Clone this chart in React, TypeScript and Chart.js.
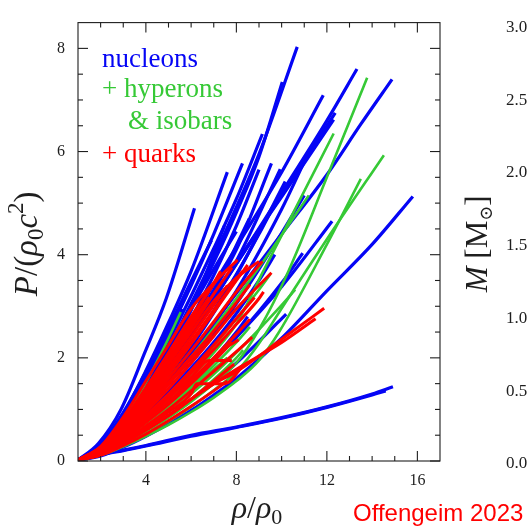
import React, { useEffect, useRef } from 'react';
import { Chart, registerables } from 'chart.js';
Chart.register(...registerables);

// ---------- data: nucleon EoS curves (rho/rho0, P/(rho0 c^2)) ----------
const nB01 = [[1,0.02],[1.9,0.34],[2.9,1.0],[3.95,2.1],[4.9,3.15],[6.15,4.9]];
const nB02 = [[1,0.02],[2,0.3],[3,0.92],[4,1.75],[5,2.68],[6,3.68],[7.6,5.6]];
const nB03 = [[1,0.02],[2,0.28],[3,0.86],[4,1.62],[5,2.48],[6,3.4],[7,4.4],[8.27,5.77]];
const nB04 = [[1,0.02],[2,0.27],[3,0.8],[4,1.5],[5,2.32],[6,3.2],[7,4.12],[8,5.08],[9.15,6.34]];
const nB05 = [[1,0.02],[2,0.26],[3,0.76],[4,1.42],[5,2.2],[6,3.05],[7,3.95],[8,4.92],[9,5.95],[10.69,8.03]];
const nB06 = [[1,0.02],[2,0.25],[3,0.74],[4,1.38],[5,2.12],[6,2.95],[7,3.85],[8,4.82],[9,5.9],[10.03,7.35]];
const nB07 = [[1,0.02],[2,0.22],[3,0.64],[4,1.18],[5,1.8],[6,2.45],[8,3.82],[10,5.2],[12,6.6],[13.33,7.6]];
const nB08 = [[1,0.02],[2,0.2],[3,0.56],[4,1.02],[5,1.54],[6,2.1],[8,3.25],[10,4.4],[12,5.55],[13.5,6.53],[14.88,7.4]];
const nB09 = [[1,0.02],[2,0.24],[3,0.7],[4,1.3],[5,1.98],[6,2.7],[8,4.15],[10,5.6],[11.84,7.09]];
const nB10 = [[1,0.02],[2,0.22],[3,0.65],[4,1.2],[5,1.82],[6,2.48],[8,3.82],[10,5.15],[12.37,6.75]];
const nB11 = [[1,0.02],[2,0.23],[3,0.67],[4,1.24],[5,1.86],[6,2.52],[8,3.85],[10,5.12],[12.3,6.62]];
const nB12 = [[1,0.02],[2,0.1],[3,0.27],[4,0.48],[5,0.72],[6,0.98],[7,1.28],[8,1.6],[10,2.38],[12,3.3],[14,4.2],[15.8,5.13]];
const nB13 = [[1,0.02],[2,0.15],[3,0.42],[4,0.75],[5,1.1],[6,1.5],[8,2.4],[10,3.38],[12.23,4.65]];
const nB14 = [[1,0.02],[2,0.16],[3,0.44],[4,0.78],[5,1.14],[6,1.54],[8,2.4],[10,3.45],[10.93,4.03]];
const nB15 = [[1,0.02],[2,0.2],[3,0.56],[4,1.02],[5,1.52],[6,2.06],[8,3.3],[10,4.88],[11,5.8]];
const nB16 = [[1,0.02],[2,0.22],[3,0.63],[4,1.16],[5,1.76],[6,2.42],[8,3.88],[9.94,5.66]];
const nB17 = [[1,0.02],[2,0.2],[3,0.58],[4,1.06],[5,1.6],[6,2.2],[8,3.6],[10.16,5.42]];
const nB18 = [[1,0.02],[2,0.24],[3,0.68],[4,1.26],[5,1.9],[6,2.6],[8,4.1],[9.55,5.77]];
const nB19 = [[1,0.02],[1.5,0.07],[2,0.13],[3,0.21],[4,0.3],[6,0.5],[8,0.66],[10,0.84],[12,1.05],[14,1.3],[14.92,1.44]];
const nB20 = [[1,0.02],[1.5,0.06],[2,0.12],[3,0.2],[4,0.29],[6,0.48],[8,0.65],[10,0.83],[12,1.04],[14,1.28],[14.6,1.36]];
const nB21 = [[1,0.02],[2,0.26],[3,0.76],[4,1.4],[5,2.12],[6,2.92],[7.47,4.56]];
const nB22 = [[1,0.02],[2,0.24],[3,0.68],[4,1.25],[5,1.88],[6,2.56],[7,3.3],[8.57,4.7]];
const nB23 = [[1,0.02],[2,0.25],[3,0.72],[4,1.33],[5,2.02],[6,2.76],[7,3.6],[8,4.56],[9,5.65]];
const nB24 = [[1,0.02],[2,0.28],[3,0.8],[4,1.46],[5,2.18],[6,2.95],[7,3.72],[8,4.45]];
const nB25 = [[1,0.02],[2,0.22],[3,0.6],[4,1.1],[5,1.66],[6,2.26],[7,2.92],[8,3.62],[9,4.4],[9.6,4.9]];
const nB26 = [[1,0.02],[2,0.19],[3,0.52],[4,0.94],[5,1.4],[6,1.9],[7,2.45],[8,3.05],[9,3.72],[10,4.42],[11,5.15]];
const nB27 = [[1,0.02],[2,0.18],[3,0.5],[4,0.9],[5,1.33],[6,1.8],[7,2.3],[8,2.86],[9,3.5],[9.7,4.0]];
const nB28 = [[1,0.02],[2,0.32],[3,0.94],[4,1.72],[5,2.58],[6,3.48],[6.9,4.28]];
const nB29 = [[1,0.02],[2,0.15],[3,0.42],[4,0.75],[5,1.12],[6,1.52],[7,1.98],[8,2.5],[8.5,2.8]];
const nB30 = [[1,0.02],[2,0.12],[3,0.33],[4,0.58],[5,0.86],[6,1.18],[7,1.52],[8,1.9],[9,2.32],[10.2,2.85]];
const nB31 = [[1,0.02],[2,0.3],[3,0.88],[4,1.6],[5,2.4],[5.6,2.95]];

// ---------- data: + hyperons & isobars ----------
const hG01 = [[1,0.02],[2,0.12],[3,0.32],[4,0.56],[5,0.84],[6,1.15],[7,1.5],[8,1.9],[9,2.55],[10.3,3.68],[12,5.5],[13.78,7.43]];
const hG02 = [[1,0.02],[2,0.16],[3,0.44],[4,0.8],[5,1.2],[6,1.62],[7,2.1],[8,2.66],[9.19,3.68],[10.5,4.8],[12.3,6.35]];
const hG03 = [[1,0.02],[2,0.12],[3,0.3],[4,0.52],[5,0.77],[6,1.05],[7,1.37],[8,1.73],[9,2.28],[9.9,2.89],[12,4.3],[14.52,5.93]];
const hG04 = [[1,0.02],[2,0.11],[3,0.28],[4,0.48],[5,0.7],[6,0.95],[7,1.23],[8,1.55],[9,1.95],[9.9,2.51],[12,4.2],[13.5,5.47]];
const hG05 = [[1,0.02],[2,0.25],[2.45,0.45],[3,0.8],[4,1.52],[5,2.38],[5.54,2.89]];
const hG06 = [[1,0.02],[2,0.16],[3,0.42],[4,0.74],[5,1.08],[6,1.45],[7,1.85],[8,2.3],[8.6,2.6]];
const hG07 = [[1,0.02],[2,0.13],[3,0.34],[4,0.6],[5,0.88],[6,1.18],[7,1.5],[7.6,1.72]];
const hG08 = [[1,0.02],[2,0.18],[3,0.48],[4,0.86],[5,1.27],[6,1.72],[7,2.22],[8,2.76],[9,3.32],[9.5,3.62]];
const hG09 = [[1,0.02],[2,0.15],[3,0.4],[4,0.7],[5,1.03],[6,1.4],[6.5,1.6],[7.6,2.0]];
const hG10 = [[1,0.02],[2,0.2],[3,0.55],[4,1.0],[5,1.5],[6,2.02],[7,2.58],[8,3.15],[9,3.75],[10,4.38],[11.2,5.15]];
const hG11 = [[1,0.02],[2,0.14],[3,0.37],[4,0.65],[5,0.96],[6,1.3],[7,1.68],[8,2.1],[9,2.55],[10,3.02],[10.6,3.32]];
const hG12 = [[1,0.02],[2,0.22],[3,0.62],[4,1.12],[5,1.68],[6,2.28],[7,2.9],[7.4,3.15]];
const hG13 = [[1,0.02],[2,0.12],[3,0.33],[4,0.58],[5,0.87],[6,1.2],[7,1.58],[8,2.0],[8.3,2.15]];
const hG14 = [[1,0.02],[2,0.17],[3,0.46],[4,0.82],[5,1.22],[6,1.66],[6.8,2.02]];

// ---------- data: + quarks ----------
const qR01 = [[1,0.02],[2,0.28],[3,0.85],[4,1.55],[5,2.25],[6,2.95],[7,3.45],[8.05,3.9]];
const qR02 = [[1,0.02],[2,0.24],[3,0.7],[4,1.28],[5,1.88],[6,2.5],[7,3.1],[8,3.55],[9.0,3.87]];
const qR03 = [[1,0.02],[2,0.21],[3,0.6],[4,1.08],[5,1.6],[6,2.14],[7,2.7],[8,3.28],[9.15,3.87]];
const qR04 = [[1,0.02],[2,0.23],[3,0.66],[4,1.18],[5,1.74],[6,2.32],[7,2.92],[8.27,3.68]];
const qR05 = [[1,0.02],[2,0.19],[3,0.52],[4,0.94],[5,1.4],[6,1.9],[7,2.42],[8,2.95],[9.55,3.65]];
const qR06 = [[1,0.02],[2,0.15],[3,0.42],[4,0.75],[5,1.1],[6,1.5],[7,1.93],[7.8,2.3]];
const qR07 = [[1,0.02],[2,0.17],[3,0.46],[4,0.82],[5,1.22],[6,1.62],[6.8,1.95],[7.8,1.95]];
const qR08 = [[1,0.02],[2,0.14],[3,0.37],[4,0.64],[5,0.95],[6,1.3],[6.25,1.5],[7.5,1.5],[8.3,1.85]];
const qR09 = [[1,0.02],[2,0.27],[3,0.78],[4,1.42],[5,2.1],[6,2.8],[7.2,3.55]];
const qR10 = [[1,0.02],[2,0.26],[3,0.74],[4,1.34],[5,1.98],[6,2.66],[6.8,3.18]];
const qR11 = [[1,0.02],[2,0.24],[3,0.68],[4,1.22],[5,1.8],[6,2.4],[7,3.02],[7.6,3.4]];
const qR12 = [[1,0.02],[2,0.2],[3,0.56],[4,1.0],[5,1.48],[6,1.98],[7,2.52],[8,3.07],[8.6,3.42]];
const qR13 = [[1,0.02],[2,0.18],[3,0.5],[4,0.88],[5,1.3],[6,1.76],[7,2.25],[8,2.76],[8.8,3.17]];
const qR14 = [[1,0.02],[2,0.16],[3,0.44],[4,0.78],[5,1.15],[6,1.56],[7,2.0],[8,2.46],[8.6,2.75]];
const qR15 = [[1,0.02],[2,0.14],[3,0.38],[4,0.68],[5,1.0],[6,1.36],[7,1.74],[8,2.12],[8.7,2.4]];
const qR16 = [[1,0.02],[2,0.12],[3,0.34],[4,0.6],[5,0.88],[6,1.2],[7,1.55],[7.9,1.88]];
const qR17 = [[1,0.02],[2,0.27],[3,0.76],[4,1.38],[5,2.04],[6,2.74],[7,3.45],[7.3,3.68]];
const qR18 = [[1,0.02],[2,0.22],[3,0.63],[4,1.13],[5,1.68],[6,2.27],[7,2.88],[8,3.5],[8.5,3.8]];
const qR19 = [[1,0.02],[2,0.21],[3,0.58],[4,1.03],[5,1.52],[6,2.02],[6.9,2.45]];
const qR20 = [[1,0.02],[2,0.17],[3,0.47],[4,0.84],[5,1.26],[6,1.7],[7,2.16],[8,2.65],[9,3.15],[9.2,3.28]];
const qR21 = [[1,0.02],[2,0.13],[3,0.35],[4,0.6],[5,0.88],[6,1.2],[7,1.5],[8,1.73],[10,2.36],[11.88,2.96]];
const qR22 = [[1,0.02],[2,0.13],[3,0.35],[4,0.6],[5,0.88],[6,1.2],[7,1.5],[8,1.78],[10,2.3],[11.5,2.76]];
const qR23 = [[1,0.02],[2,0.16],[3,0.43],[4,0.76],[5,1.14],[6,1.55],[7,1.98],[7.4,2.15],[8.1,2.35]];
const qR24 = [[1,0.02],[2,0.11],[3,0.3],[4,0.52],[5,0.78],[6,1.06],[7,1.36],[7.6,1.55]];
const qR25 = [[1,0.02],[2,0.25],[3,0.72],[4,1.3],[5,1.93],[6,2.58],[7,3.24],[7.8,3.75]];

const nucleonCurves = [nB01,nB02,nB03,nB04,nB05,nB06,nB07,nB08,nB09,nB10,nB11,nB12,nB13,nB14,nB15,nB16,nB17,nB18,nB19,nB20,nB21,nB22,nB23,nB24,nB25,nB26,nB27,nB28,nB29,nB30,nB31];
const hyperonCurves = [hG01,hG02,hG03,hG04,hG05,hG06,hG07,hG08,hG09,hG10,hG11,hG12,hG13,hG14];
const quarkCurves = [qR01,qR02,qR03,qR04,qR05,qR06,qR07,qR08,qR09,qR10,qR11,qR12,qR13,qR14,qR15,qR16,qR17,qR18,qR19,qR20,qR21,qR22,qR23,qR24,qR25];

// ---------- axes / labels ----------
const xMajorTicks = [4, 8, 12, 16];
const xMinorTicks = [2, 3, 5, 6, 7, 9, 10, 11, 13, 14, 15];
const yMajorTicks = [0, 2, 4, 6, 8];
const yMinorTicks = [0.5, 1, 1.5, 2.5, 3, 3.5, 4.5, 5, 5.5, 6.5, 7, 7.5];
const massTickValues = [0, 0.5, 1, 1.5, 2, 2.5, 3];
const massTickLabels = ['0.0', '0.5', '1.0', '1.5', '2.0', '2.5', '3.0'];
const legendLabels = ['nucleons', '+ hyperons', '& isobars', '+ quarks'];
const creditLabel = 'Offengeim 2023';

const BLUE = '#0505f5';
const GREEN = '#36c936';
const RED = '#ff0000';
const INK = '#1e1e1e';
const SERIF = "'Liberation Serif', 'DejaVu Serif', 'DejaVu Sans', serif";

type Part = { t: string; italic?: boolean; size: number; dy?: number };

function drawRich(ctx: CanvasRenderingContext2D, parts: Part[], x: number, y: number, angle: number) {
  ctx.save();
  ctx.translate(x, y);
  ctx.rotate(angle);
  ctx.textBaseline = 'alphabetic';
  ctx.textAlign = 'left';
  ctx.fillStyle = INK;
  const widths = parts.map((p) => {
    ctx.font = `${p.italic ? 'italic ' : ''}${p.size}px ${SERIF}`;
    return ctx.measureText(p.t).width;
  });
  const total = widths.reduce((a, b) => a + b, 0);
  let cx = -total / 2;
  parts.forEach((p, i) => {
    ctx.font = `${p.italic ? 'italic ' : ''}${p.size}px ${SERIF}`;
    ctx.fillText(p.t, cx, p.dy || 0);
    cx += widths[i];
  });
  ctx.restore();
}

const yTitle: Part[] = [
  { t: 'P', italic: true, size: 33 },
  { t: '/', size: 33 },
  { t: '(', size: 33 },
  { t: 'ρ', italic: true, size: 33 },
  { t: '0', size: 23, dy: 6 },
  { t: 'c', italic: true, size: 33 },
  { t: '2', size: 23, dy: -14 },
  { t: ')', size: 33 },
];
const xTitle: Part[] = [
  { t: 'ρ', italic: true, size: 32 },
  { t: '/', size: 32 },
  { t: 'ρ', italic: true, size: 32 },
  { t: '0', size: 22, dy: 6 },
];
const mTitle: Part[] = [
  { t: 'M', italic: true, size: 31 },
  { t: ' [', size: 31 },
  { t: 'M', size: 31 },
  { t: '⊙', size: 18, dy: 5 },
  { t: ']', size: 31 },
];

const decorPlugin = {
  id: 'decor',
  afterDatasetsDraw(chart: any) {
    const { ctx, chartArea: a, scales } = chart;
    const xs = scales.x, ys = scales.y, ms = scales.m;
    ctx.save();
    // frame
    ctx.strokeStyle = INK;
    ctx.lineWidth = 1.1;
    ctx.strokeRect(a.left, a.top, a.right - a.left, a.bottom - a.top);
    // inward ticks on all four sides
    const tick = (x1: number, y1: number, x2: number, y2: number) => {
      ctx.beginPath(); ctx.moveTo(x1, y1); ctx.lineTo(x2, y2); ctx.stroke();
    };
    xMajorTicks.forEach((v) => { const p = xs.getPixelForValue(v); tick(p, a.bottom, p, a.bottom - 10); tick(p, a.top, p, a.top + 10); });
    xMinorTicks.forEach((v) => { const p = xs.getPixelForValue(v); tick(p, a.bottom, p, a.bottom - 5); tick(p, a.top, p, a.top + 5); });
    yMajorTicks.forEach((v) => { const p = ys.getPixelForValue(v); tick(a.left, p, a.left + 10, p); tick(a.right, p, a.right - 10, p); });
    yMinorTicks.forEach((v) => { const p = ys.getPixelForValue(v); tick(a.left, p, a.left + 5, p); tick(a.right, p, a.right - 5, p); });

    // legend text
    ctx.textBaseline = 'alphabetic';
    ctx.textAlign = 'left';
    ctx.font = `27px ${SERIF}`;
    ctx.fillStyle = BLUE; ctx.fillText(legendLabels[0], a.left + 24, a.top + 44);
    ctx.fillStyle = GREEN; ctx.fillText(legendLabels[1], a.left + 24, a.top + 74);
    ctx.fillStyle = GREEN; ctx.fillText(legendLabels[2], a.left + 50, a.top + 106);
    ctx.fillStyle = RED; ctx.fillText(legendLabels[3], a.left + 24, a.top + 139);

    // axis titles
    drawRich(ctx, yTitle, 37, (a.top + a.bottom) / 2 + 2, -Math.PI / 2);
    drawRich(ctx, xTitle, (a.left + a.right) / 2 - 2, 518, 0);

    // neighbouring mass panel (cut off)
    drawRich(ctx, mTitle, 487, (a.top + a.bottom) / 2 + 2, -Math.PI / 2);
    ctx.font = `17px ${SERIF}`;
    ctx.fillStyle = INK;
    ctx.textBaseline = 'middle';
    ctx.textAlign = 'left';
    massTickValues.forEach((v, i) => { ctx.fillText(massTickLabels[i], a.right + 66, ms.getPixelForValue(v)); });

    // credit
    ctx.font = "24px 'Liberation Sans', Arial, sans-serif";
    ctx.fillStyle = RED;
    ctx.textBaseline = 'alphabetic';
    ctx.fillText(creditLabel, 353, 521);
    ctx.restore();
  },
};

const toPts = (c: number[][]) => c.map(([x, y]) => ({ x, y }));

export default function App() {
  const ref = useRef<HTMLCanvasElement>(null);
  useEffect(() => {
    document.body.style.margin = '0';
    const datasets: any[] = [
      ...quarkCurves.map((c) => ({ data: toPts(c), borderColor: RED, borderWidth: 3, order: 0 })),
      ...hyperonCurves.map((c) => ({ data: toPts(c), borderColor: GREEN, borderWidth: 2.6, order: 1 })),
      ...nucleonCurves.map((c) => ({ data: toPts(c), borderColor: BLUE, borderWidth: 3.2, order: 2 })),
    ];
    const tickFont = { family: SERIF, size: 16 };
    const chart = new Chart(ref.current as HTMLCanvasElement, {
      type: 'line',
      data: { datasets },
      plugins: [decorPlugin],
      options: {
        animation: false,
        responsive: false,
        maintainAspectRatio: false,
        events: [],
        layout: { padding: { top: 9, right: 88, left: 0, bottom: 0 } },
        elements: {
          point: { radius: 0 },
          line: { cubicInterpolationMode: 'monotone', fill: false },
        },
        plugins: { legend: { display: false }, tooltip: { enabled: false } },
        scales: {
          x: {
            type: 'linear', min: 1, max: 17,
            afterFit: (s: any) => { s.height = 69; },
            afterBuildTicks: (s: any) => { s.ticks = xMajorTicks.map((v) => ({ value: v })); },
            grid: { display: false, drawTicks: false },
            border: { display: false },
            ticks: { font: tickFont, color: INK, padding: 10, maxRotation: 0, autoSkip: false },
          },
          y: {
            type: 'linear', min: 0, max: 8.5,
            afterFit: (s: any) => { s.width = 78; },
            afterBuildTicks: (s: any) => { s.ticks = yMajorTicks.map((v) => ({ value: v })); },
            grid: { display: false, drawTicks: false },
            border: { display: false },
            ticks: { font: tickFont, color: INK, padding: 13, autoSkip: false },
          },
          m: { type: 'linear', position: 'right', display: false, min: 0.02, max: 3.033 },
        },
      } as any,
    });
    return () => chart.destroy();
  }, []);
  return (
    <div style={{ position: 'fixed', left: 0, top: 0, width: 528, height: 530, background: '#fff' }}>
      <canvas ref={ref} width={528} height={530} style={{ width: 528, height: 530, display: 'block' }} />
    </div>
  );
}
